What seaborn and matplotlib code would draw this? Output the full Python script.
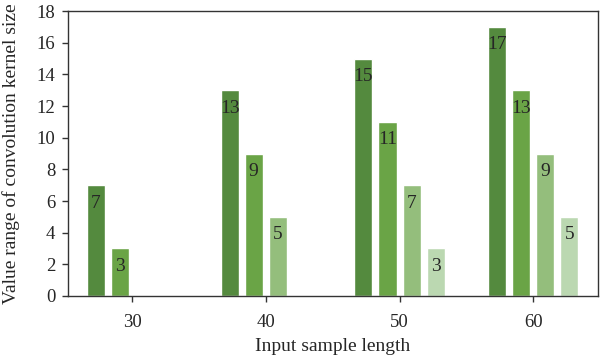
import pandas as pd
import seaborn as sns
import matplotlib.pyplot as plt

# Dados
lengths = [30, 30, 40, 40, 40, 50, 50, 50, 50, 60, 60, 60, 60]
series = ['a', 'b', 'a', 'b', 'c', 'a', 'b', 'c', 'd', 'a', 'b', 'c', 'd']
values = [7, 3, 13, 9, 5, 15, 11, 7, 3, 17, 13, 9, 5]
series_order = ['a', 'b', 'c', 'd']
colors = ['#548a3e', '#6aa446', '#94be7c', '#bbd8b1']

df = pd.DataFrame({'length': lengths, 'series': series, 'value': values})

sns.set_style('ticks')
plt.rcParams['font.family'] = ['Liberation Serif', 'DejaVu Serif']

fig, ax = plt.subplots(figsize=(6, 3.6), dpi=100)
sns.barplot(data=df, x='length', y='value', hue='series', hue_order=series_order,
            palette=colors, native_scale=True, width=0.72, gap=0.25,
            legend=False, saturation=1, ax=ax)

# Rótulos dentro das barras
for c in ax.containers:
    ax.bar_label(c, label_type='edge', padding=-19, fontsize=14)

ax.set_xlim(25.2, 64.85)
ax.set_ylim(0, 18)
ax.set_xticks([30, 40, 50, 60])
ax.set_yticks(range(0, 19, 2))
ax.tick_params(labelsize=13.5, length=4, width=1, color='#333333', pad=5)
ax.tick_params(axis='x', pad=9)
for s in ax.spines.values():
    s.set_visible(True)
    s.set_color('#333333')
    s.set_linewidth(1)

ax.set_xlabel('Input sample length', fontsize=14, labelpad=5)
ax.set_ylabel('Value range of convolution kernel size', fontsize=14, labelpad=12)

plt.subplots_adjust(left=0.113, right=0.997, top=0.969, bottom=0.178)
plt.savefig('out.png')
